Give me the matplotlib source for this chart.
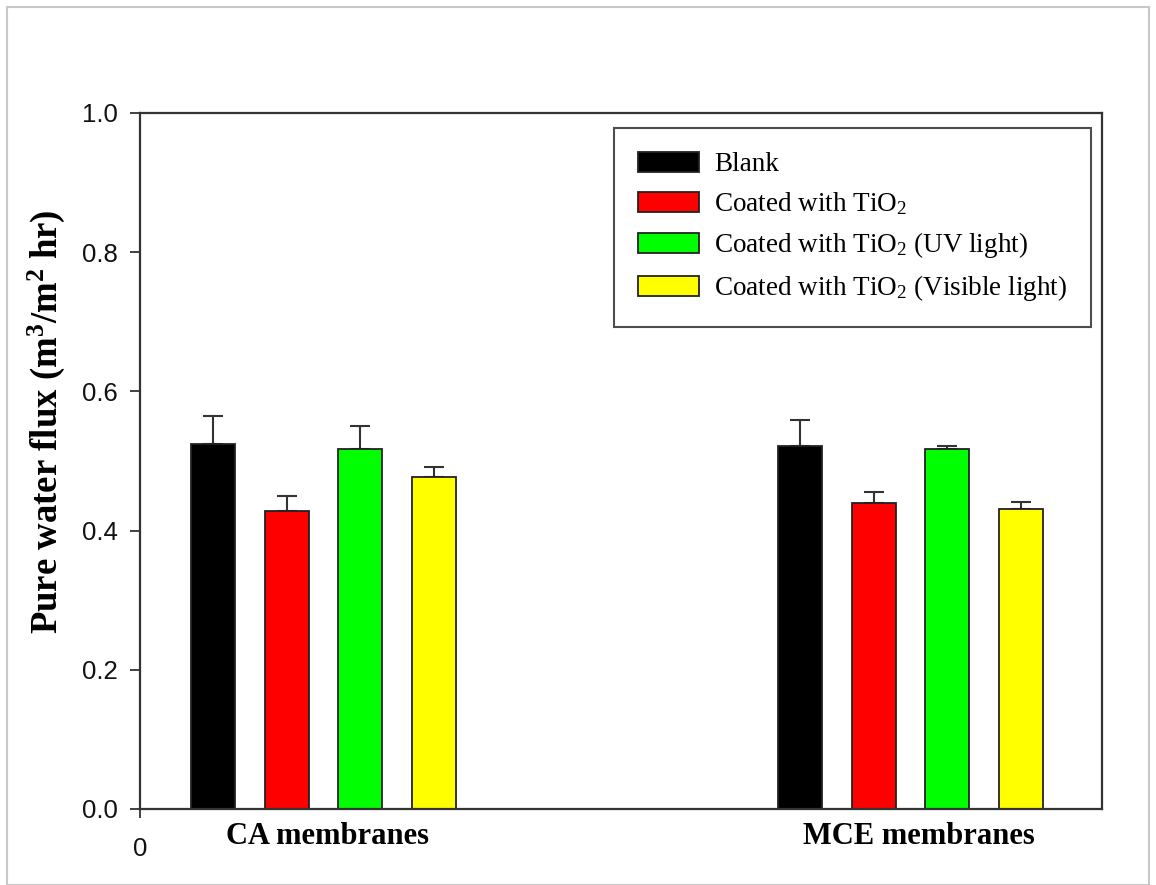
import matplotlib
matplotlib.use("Agg")
import matplotlib.pyplot as plt
from matplotlib.patches import Rectangle
from matplotlib.transforms import blended_transform_factory

# data
groups = ["CA membranes", "MCE membranes"]
series = ["Blank", "Coated with TiO$_2$", "Coated with TiO$_2$ (UV light)",
          "Coated with TiO$_2$ (Visible light)"]
colors = ["#000000", "#ff0000", "#00ff00", "#ffff00"]
ca_flux = [0.525, 0.428, 0.517, 0.477]
ca_err = [0.040, 0.021, 0.033, 0.014]
mce_flux = [0.522, 0.439, 0.517, 0.431]
mce_err = [0.037, 0.017, 0.004, 0.010]
ca_pos = [1, 2, 3, 4]
mce_pos = [9, 10, 11, 12]
group_label_x = [2.56, 10.62]

plt.rcParams['mathtext.fontset'] = 'custom'
plt.rcParams['mathtext.rm'] = 'Liberation Serif'
plt.rcParams['mathtext.it'] = 'Liberation Serif:italic'
plt.rcParams['mathtext.bf'] = 'Liberation Serif:bold'

W, H = 1156, 885
fig = plt.figure(figsize=(W / 100, H / 100), dpi=100)
ax = fig.add_axes([140 / W, 1 - 809 / H, 962 / W, 696 / H])

# light grey frame around whole picture
fig.patches.append(Rectangle((7 / W, 0), 1142 / W, 1 - 7 / H, transform=fig.transFigure,
                             fill=False, edgecolor="#c8c8c8", linewidth=1.5))

spine_col = "#333333"
for i in range(4):
    ax.bar([ca_pos[i], mce_pos[i]], [ca_flux[i], mce_flux[i]], width=0.6,
           color=colors[i], edgecolor="#222222", linewidth=1.3, label=series[i], zorder=2)
    ax.errorbar([ca_pos[i], mce_pos[i]], [ca_flux[i], mce_flux[i]],
                yerr=[[0, 0], [ca_err[i], mce_err[i]]], fmt="none",
                ecolor=spine_col, elinewidth=1.5, capsize=7.5, capthick=1.5, zorder=1)

ax.set_xlim(0, 13.11)
ax.set_ylim(0, 1.0)
ax.set_yticks([0.0, 0.2, 0.4, 0.6, 0.8, 1.0])
ax.set_yticklabels(["0.0", "0.2", "0.4", "0.6", "0.8", "1.0"])
ax.set_xticks([0])
ax.set_xticklabels(["0"])
for s in ax.spines.values():
    s.set_linewidth(1.6)
    s.set_color(spine_col)
ax.tick_params(axis="y", direction="out", length=7.2, width=1.3, color=spine_col,
               pad=9, labelsize=18.5, labelcolor="#111111")
ax.tick_params(axis="x", direction="out", length=6.5, width=1.3, color=spine_col,
               pad=14, labelsize=18.5, labelcolor="#111111")
for lab in ax.get_xticklabels() + ax.get_yticklabels():
    lab.set_family("Liberation Sans")

tr = blended_transform_factory(ax.transData, ax.transAxes)
for gx, g in zip(group_label_x, groups):
    ax.text(gx, -0.04, g, transform=tr, ha="center", va="center",
            family="Liberation Serif", fontweight="bold", fontsize=22)

fig.text(46 / W, 1 - 422 / H, r"Pure water flux (m$^{\mathbf{3}}$/m$^{\mathbf{2}}$ hr)",
         rotation=90, ha="center", va="center", family="Liberation Serif",
         fontweight="bold", fontsize=26.5)

leg = ax.legend(loc="upper right", bbox_to_anchor=(1091 / W, 1 - 128 / H),
                bbox_transform=fig.transFigure, borderaxespad=0, fancybox=False,
                prop={"family": "Liberation Serif", "size": 19.5},
                handlelength=2.25, handleheight=0.78, handletextpad=0.55,
                labelspacing=0.48, borderpad=0.88)
leg.get_frame().set_edgecolor("#222222")
leg.get_frame().set_linewidth(1.5)

fig.savefig("out.png", dpi=100)
